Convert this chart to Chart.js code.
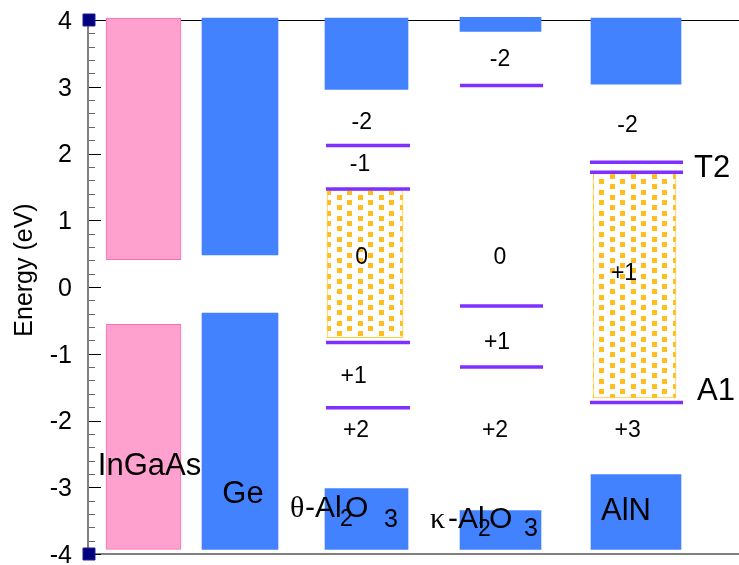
<!DOCTYPE html>
<html><head><meta charset="utf-8">
<script src="https://cdn.jsdelivr.net/npm/chart.js@4.4.0/dist/chart.umd.min.js"></script>
<style>html,body{margin:0;padding:0;background:#fff;}canvas{display:block;}</style>
</head><body>
<canvas id="c" width="739" height="565"></canvas>
<script>
// ---------------- data ----------------
const materials = ['InGaAs', 'Ge', 'θ-Al2O3', 'κ-Al2O3', 'AlN'];
const conductionBand = [[0.41, 4.03], [0.48, 4.03], [2.96, 4.03], [3.83, 4.04], [3.04, 4.03]];
const valenceBand = [[-3.93, -0.56], [-3.93, -0.39], [-3.93, -3.02], [-3.93, -3.35], [-3.93, -2.81]];
const defectLevels = [[], [], [2.12, 1.47, -0.83, -1.81], [3.02, -0.285, -1.20], [1.87, 1.72, -1.73]];
const defectBand = [null, null, [-0.76, 1.45], null, [-1.66, 1.70]];
const chargeLabels = [[], [], ['-2', '-1', '0', '+1', '+2'], ['-2', '0', '+1', '+2'], ['-2', '+1', '+3']];
const levelNames = ['T2', 'A1'];
const yTickValues = [-4, -3, -2, -1, 0, 1, 2, 3, 4];
const yTitle = 'Energy (eV)';

// ---------------- layout / style ----------------
const layout = {
  xCenter: [54.5, 151, 277.5, 411.5, 547],
  bandWidth: [75, 76, 83, 81, 90],
  levelSpan: [null, null, [237, 321], [371, 454], [501, 594]],
  patternCenter: [null, null, 276, null, 545.5],
  patternWidth: [null, null, 76, null, 83],
  chargePos: [[], [],
    [[272.7, 2.457], [271, 1.832], [272.7, 0.442], [264.7, -1.341], [267, -2.150]],
    [[411, 3.401], [411, 0.442], [408, -0.831], [406, -2.150]],
    [[538.6, 2.419], [535, 0.205], [538.6, -2.150]]],
  levelNamePos: [[605, 1.778], [608, -1.566]],
  materialPos: [[60.5, -2.816], [154, -3.236], [201, -3.446], [341, -3.610], [537, -3.491]],
  materialAlign: ['center', 'center', 'left', 'left', 'center'],
  // formula pieces: [text, dx, family, size, dy]
  formula: {
    2: [['θ', 0, 'serif', 30, 0], ['-Al', 15, 'sans', 30, 0], ['2', 50, 'sans', 23, 9], ['O', 55, 'sans', 30, 0], ['3', 94, 'sans', 25, 10]],
    3: [['κ', 0, 'serif', 30, 0], ['-Al', 18, 'sans', 30, 0], ['2', 48, 'sans', 23, 8], ['O', 59, 'sans', 30, 0], ['3', 94, 'sans', 25, 8]]
  }
};
const SANS = "'Liberation Sans', Arial, sans-serif";
const SERIF = "'Liberation Serif', 'DejaVu Serif', serif";
const COLORS = { blue: '#4282FF', pink: '#FFA1CF', pinkEdge: '#FF6EB4', purple: '#7F2FFF', orange: '#FFBE1E', navy: '#00007F' };

const canvas = document.getElementById('c');
const mainCtx = canvas.getContext('2d');
function makePattern() {
  const t = document.createElement('canvas');
  t.width = 21; t.height = 21;
  const g = t.getContext('2d');
  g.fillStyle = '#ffffff'; g.fillRect(0, 0, 21, 21);
  g.fillStyle = COLORS.orange;
  [[1, 6], [1, 16], [11, 1], [11, 11]].forEach(([x, y]) => g.fillRect(x, y, 5, 5));
  return mainCtx.createPattern(t, 'repeat');
}
const dotPattern = makePattern();

// ---------------- datasets ----------------
const datasets = [];
datasets.push({
  type: 'scatter', data: [{ x: 0, y: 4 }, { x: 0, y: -4 }],
  pointStyle: 'rect', pointRadius: 8.5, backgroundColor: COLORS.navy, borderColor: '#22229a', borderWidth: 1,
  order: 0, clip: false
});
materials.forEach((m, i) => {
  defectLevels[i].forEach(e => {
    const [x1, x2] = layout.levelSpan[i];
    datasets.push({
      type: 'line', data: [{ x: x1, y: e }, { x: x2, y: e }],
      borderColor: COLORS.purple, borderWidth: 3.5, pointRadius: 0, fill: false, order: 1, clip: false
    });
  });
  if (defectBand[i]) {
    datasets.push({
      type: 'bar', data: [{ x: layout.patternCenter[i], y: defectBand[i] }],
      backgroundColor: dotPattern, borderColor: 'rgba(255,190,30,0.85)', borderWidth: 1, borderSkipped: false,
      barThickness: layout.patternWidth[i], grouped: false, order: 2, clip: false
    });
  }
  datasets.push({
    type: 'bar', label: m,
    data: [{ x: layout.xCenter[i], y: conductionBand[i] }, { x: layout.xCenter[i], y: valenceBand[i] }],
    backgroundColor: i === 0 ? COLORS.pink : COLORS.blue,
    borderColor: i === 0 ? COLORS.pinkEdge : COLORS.blue,
    borderWidth: i === 0 ? 1 : 0, borderSkipped: false,
    barThickness: layout.bandWidth[i], grouped: false, order: 3, clip: false
  });
});

// ---------------- decoration plugin ----------------
const decor = {
  id: 'decor',
  beforeDatasetsDraw(chart) {
    const { ctx, chartArea: a, scales: { y } } = chart;
    ctx.save();
    ctx.strokeStyle = '#000'; ctx.lineWidth = 1;
    ctx.beginPath(); ctx.moveTo(a.left, a.top + 0.5); ctx.lineTo(a.right, a.top + 0.5); ctx.stroke();
    ctx.strokeStyle = '#808080'; ctx.lineWidth = 2;
    ctx.beginPath(); ctx.moveTo(a.left, a.bottom); ctx.lineTo(a.right, a.bottom); ctx.stroke();
    ctx.beginPath(); ctx.moveTo(a.left - 1, a.top); ctx.lineTo(a.left - 1, a.bottom); ctx.stroke();
    for (let i = -20; i <= 20; i++) {
      const py = Math.round(y.getPixelForValue(i / 5)) + 0.5;
      const major = i % 5 === 0;
      ctx.strokeStyle = major ? '#000' : '#666';
      ctx.lineWidth = 1;
      ctx.beginPath(); ctx.moveTo(a.left, py); ctx.lineTo(a.left + (major ? 12 : 6), py); ctx.stroke();
    }
    ctx.restore();
  },
  afterDatasetsDraw(chart) {
    const { ctx, scales: { x, y } } = chart;
    ctx.save();
    ctx.fillStyle = '#000';
    ctx.font = '23px ' + SANS; ctx.textAlign = 'center'; ctx.textBaseline = 'middle';
    chargeLabels.forEach((arr, i) => arr.forEach((t, k) => {
      const [vx, vy] = layout.chargePos[i][k];
      ctx.fillText(t, x.getPixelForValue(vx), y.getPixelForValue(vy));
    }));
    ctx.font = '31px ' + SANS; ctx.textAlign = 'left';
    levelNames.forEach((t, k) => {
      const [vx, vy] = layout.levelNamePos[k];
      ctx.fillText(t, x.getPixelForValue(vx), y.getPixelForValue(vy));
    });
    ctx.textBaseline = 'alphabetic';
    materials.forEach((m, i) => {
      const [vx, vy] = layout.materialPos[i];
      const px = x.getPixelForValue(vx), py = y.getPixelForValue(vy);
      const parts = layout.formula[i];
      if (parts) {
        ctx.textAlign = 'left';
        parts.forEach(([t, dx, fam, size, dy]) => {
          ctx.font = size + 'px ' + (fam === 'serif' ? SERIF : SANS);
          ctx.fillText(t, px + dx, py + dy);
        });
      } else {
        ctx.font = '31px ' + SANS; ctx.textAlign = layout.materialAlign[i];
        ctx.fillText(m, px, py);
      }
    });
    ctx.restore();
  },
  afterDraw(chart) {
    const ctx = chart.ctx;
    ctx.save();
    ctx.translate(32, 270); ctx.rotate(-Math.PI / 2);
    ctx.font = '25px ' + SANS; ctx.fillStyle = '#000'; ctx.textAlign = 'center'; ctx.textBaseline = 'alphabetic';
    ctx.fillText(yTitle, 0, 0);
    ctx.restore();
  }
};

new Chart(canvas, {
  type: 'bar',
  data: { datasets },
  options: {
    responsive: false, devicePixelRatio: 1, animation: false, events: [],
    layout: { autoPadding: false, padding: { top: 20, bottom: 11, left: 0, right: 0 } },
    plugins: { legend: { display: false }, tooltip: { enabled: false } },
    scales: {
      x: { type: 'linear', min: 0, max: 650, offset: false, display: false, stacked: false },
      y: {
        type: 'linear', min: -4, max: 4, stacked: false,
        afterBuildTicks: s => { s.ticks = yTickValues.map(v => ({ value: v })); },
        afterFit: s => { s.width = 89; s.paddingTop = 0; s.paddingBottom = 0; },
        ticks: { font: { family: SANS, size: 25 }, color: '#000', padding: 17, labelOffset: 2, callback: v => String(v) },
        grid: { display: false, drawTicks: false },
        border: { display: false },
        title: { display: false }
      }
    }
  },
  plugins: [decor]
});
</script>
</body></html>
